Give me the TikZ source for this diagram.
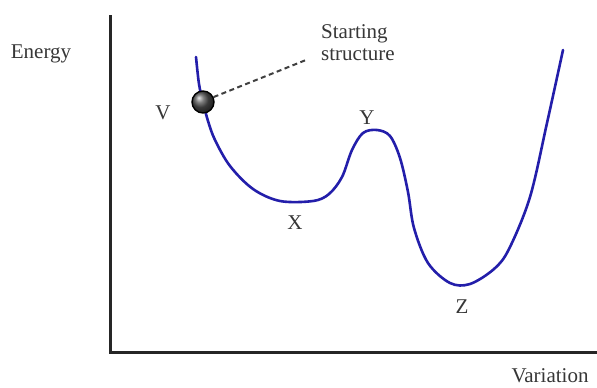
\documentclass[tikz,border=0pt]{standalone}
\usepackage{fontspec}
\setmainfont{Liberation Serif}
\definecolor{curveblue}{RGB}{35,30,170}
\definecolor{txt}{RGB}{55,55,55}
\begin{document}
\begin{tikzpicture}[x=1pt,y=-1pt,
  lbl/.style={font=\fontsize{21}{22}\selectfont, text=txt, inner sep=0pt},
  axisline/.style={line width=3pt, draw=black!85},
  energy/.style={line width=2.6pt, draw=curveblue, line join=round, line cap=round},
  leader/.style={line width=2pt, draw=black!75, dash pattern=on 5pt off 3.5pt}]
\useasboundingbox (0,0) rectangle (597,388);
\fill[white] (0,0) rectangle (597,388);
% axes
\coordinate (top) at (110,15);
\coordinate (origin) at (110,352);
\coordinate (right) at (597,352);
\draw[axisline] (top) -- (origin) -- (right);
% energy curve
\draw[energy] plot[smooth, tension=0.55] coordinates {
  (196,57) (199,84) (203,102) (208,121) (215,140) (230,166) (253,189)
  (280,201) (313,201) (329,194) (342,177) (352,150) (363,133) (377,130)
  (390,136) (400,158) (408,192) (414,228) (428,263) (450,283) (470,284)
  (494,269) (509,249) (530,197) (547,123) (563,50)};
% ball
\node[circle, draw=black, line width=1.4pt, ball color=gray!65!black, minimum size=22pt, inner sep=0pt] (ball) at (203,102) {};
% labels
\node[lbl] (energylbl) at (41,54) {Energy};
\node[lbl] (variation) at (550,376) {Variation};
\node[lbl] (V) at (163,113) {V};
\node[lbl] (X) at (295,223) {X};
\node[lbl] (Y) at (367,118) {Y};
\node[lbl] (Z) at (462,307) {Z};
\node[lbl, align=left, anchor=north west] (start) at (321,24) {Starting\\structure};
\coordinate (dashend) at (306,60);
\draw[leader] (ball.25) -- (dashend);
\end{tikzpicture}
\end{document}
